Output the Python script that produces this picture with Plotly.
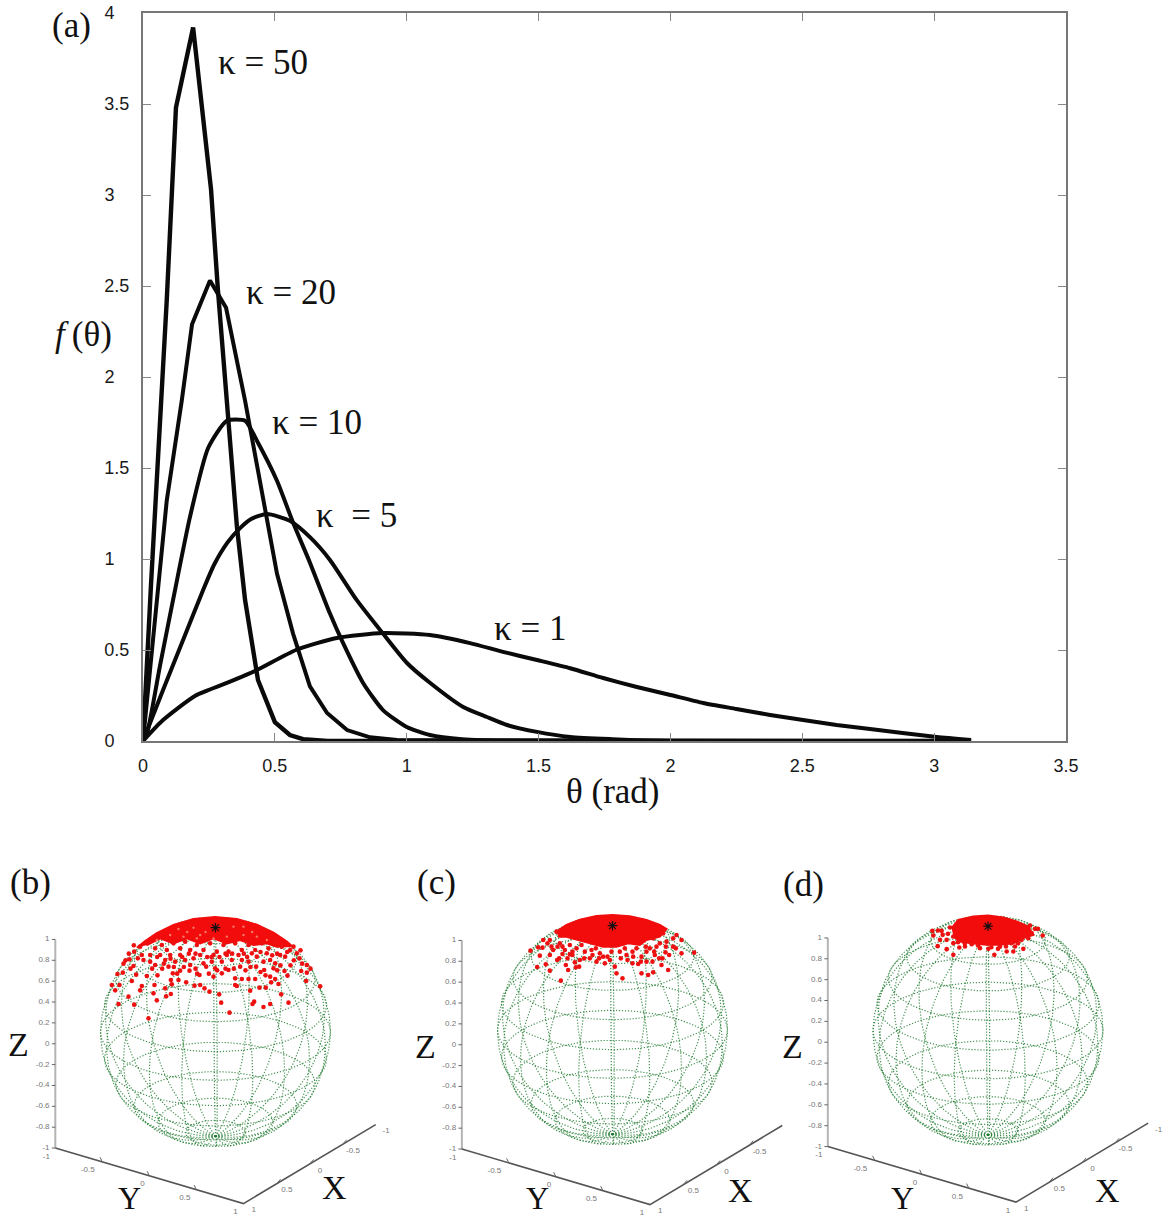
import numpy as np
import plotly.graph_objects as go

W, H = 1168, 1218

# ---------- panel (a): values ----------
k50_x = [0, 0.03, 0.09, 0.125, 0.19, 0.224, 0.258, 0.284, 0.318, 0.356, 0.387, 0.436, 0.50, 0.557, 0.607, 0.70, 3.14]
k50_y = [0, 0.85, 2.42, 3.48, 3.92, 3.50, 3.03, 2.48, 1.84, 1.18, 0.775, 0.335, 0.104, 0.033, 0.01, 0, 0]
k20_x = [0, 0.04, 0.09, 0.147, 0.186, 0.254, 0.315, 0.387, 0.413, 0.455, 0.508, 0.569, 0.633, 0.698, 0.774, 0.861, 0.963, 3.14]
k20_y = [0, 0.59, 1.32, 1.87, 2.29, 2.53, 2.38, 1.87, 1.67, 1.32, 0.92, 0.59, 0.30, 0.154, 0.06, 0.02, 0.005, 0]
k10_x = [0, 0.015, 0.064, 0.114, 0.178, 0.247, 0.318, 0.387, 0.432, 0.508, 0.569, 0.633, 0.709, 0.758, 0.834, 0.91, 1.0, 1.088, 1.21, 1.4, 3.14]
k10_y = [0, 0.04, 0.41, 0.775, 1.23, 1.61, 1.76, 1.76, 1.65, 1.43, 1.20, 0.98, 0.70, 0.54, 0.32, 0.17, 0.077, 0.033, 0.01, 0, 0]
k5_x = [0, 0.076, 0.152, 0.228, 0.27, 0.32, 0.368, 0.41, 0.47, 0.557, 0.633, 0.709, 0.81, 0.91, 1.0, 1.088, 1.214, 1.304, 1.38, 1.494, 1.62, 1.78, 2.0, 3.14]
k5_y = [0, 0.28, 0.555, 0.83, 0.97, 1.09, 1.17, 1.22, 1.247, 1.21, 1.12, 0.995, 0.775, 0.59, 0.43, 0.32, 0.187, 0.132, 0.088, 0.05, 0.022, 0.01, 0, 0]
k1_x = [0, 0.076, 0.2, 0.318, 0.432, 0.58, 0.735, 0.91, 1.088, 1.24, 1.365, 1.494, 1.62, 1.745, 1.873, 2.0, 2.124, 2.25, 2.378, 2.503, 2.63, 2.757, 2.88, 3.01, 3.14]
k1_y = [0, 0.115, 0.25, 0.319, 0.39, 0.5, 0.566, 0.593, 0.582, 0.538, 0.49, 0.445, 0.40, 0.346, 0.297, 0.253, 0.209, 0.176, 0.143, 0.115, 0.088, 0.066, 0.044, 0.022, 0.005]

x_ticks = [0, 0.5, 1, 1.5, 2, 2.5, 3, 3.5]
x_tick_labels = ["0", "0.5", "1", "1.5", "2", "2.5", "3", "3.5"]
y_ticks = [0, 0.5, 1, 1.5, 2, 2.5, 3, 3.5, 4]
y_tick_labels = ["0", "0.5", "1", "1.5", "2", "2.5", "3", "3.5", "4"]

# ---------- panels (b)-(d): red samples as seen on the sphere ----------
# offsets from the sphere centre, in units of 1/345 of its radius
READ_UNIT = 345.0
b_u = [42,-201,-291,-244,-176,-261,-186,-148,-134,17,116,111,144,164,219,197,314,272,104,132,151,-311,-288,-301,-251,-221,-226,-183,-151,-131,-111,-88,-63,-46,-33,-18,11,59,79,64,99,119,167,189,179,207,216,257,274,-294,-278,-276,-246,-258,-221,-206,-174,-134,-128,-106,-78,-48,-28,-6,19,39,59,74,122,146,164,174,209,244,252,274,-244,-233,-216,-196,-181,-151,-141,-121,-91,-76,-66,-36,-11,-1,19,49,79,99,124,144,164,179,194,224,234,-226,-206,-181,-161,-146,-126,-106,-91,-76,-56,-36,-16,4,24,39,59,79,99,119,139,159,179,199,-196,-166,-136,-106,-46,-6,34,69,109,154,
       -260,-270,-255,-238,-190,-160,-125,-115,-95,-60,-55,-20,5,30,55,90,105,135,150,185,195,225,235,260,285,-175,-155,-135,-100,-80,-60,-25,-12,12,30,50,85,95,135,170,185,215,255,-245]
b_v = [58,41,84,82,95,106,116,107,114,88,91,84,75,84,88,113,137,153,124,133,133,141,141,125,153,138,125,141,131,143,156,149,139,141,131,121,113,141,159,138,159,159,149,144,159,183,169,183,178,174,178,205,198,218,231,168,170,156,176,184,184,171,196,166,176,186,161,196,196,186,166,191,226,236,221,201,241,221,216,211,201,216,196,211,216,201,221,206,211,191,211,216,216,211,226,211,216,206,231,246,256,256,266,251,261,246,266,251,271,246,261,246,266,241,261,241,266,246,261,246,266,251,271,256,231,231,231,231,231,231,231,231,236,236,
       235,215,190,172,190,190,195,175,195,190,175,175,185,190,190,185,195,180,170,185,200,200,215,205,190,225,205,220,225,235,235,225,225,225,235,235,235,225,240,230,235,240,245,260]
b_cap_u = [-236,-211,-176,-126,-66,-1,64,124,174,214,229,184,154,114,74,34,-6,-46,-86,-126,-166,-206]
b_cap_v = [253,273,297,321,339,345,339,322,298,271,258,256,266,261,276,266,281,266,281,266,281,261]
b_gap_u = [-111,-66,-46,54,84,-136,-96,-56,-6,34,84,124,154,-176,-30,110,-85]
b_gap_v = [309,313,291,316,316,291,286,281,281,286,291,286,276,276,300,300,300]

c_u = [30,-155,-188,-226,-200,-133,-110,-140,-166,-218,-246,-223,-210,-183,-188,-150,-128,-98,-100,-113,-68,-48,-23,-8,7,12,62,77,87,107,122,102,127,140,147,167,159,207,245,182,207,192,142,112,87,42,22,-38,-28,-83,-108,-128,-158,-188,-208,-168,102,132,162,182,122,152,72,37,-3,-63,-93,-143,-178,
       -160,-135,-120,-85,-60,-40,-15,25,45,60,85,120,150,170,190,160,125,100,60,-50,-120,-165,-195,-150]
c_v = [155,148,178,189,197,180,188,195,210,223,238,248,247,250,225,228,227,210,190,203,215,205,200,210,190,170,220,198,170,165,173,205,225,215,195,180,233,230,232,250,270,285,260,245,220,225,235,230,220,235,245,255,260,270,270,295,235,250,265,275,275,290,245,245,235,240,255,240,240,
       215,215,235,215,225,215,220,215,210,200,205,205,215,225,245,250,235,250,235,245,225,250,260,250]
c_cap_u = [-168,-138,-98,-48,0,52,102,142,162,142,102,82,47,12,-28,-68,-103,-138,-163]
c_cap_v = [295,315,331,342,345,341,330,315,303,280,270,255,260,250,250,260,270,280,280]

d_u = [-104,19,-151,-124,-164,-167,-144,-124,-136,-104,-86,-69,-49,-24,1,56,76,106,81,54,101,121,131,164,141,126,36,-114,-139,-104,
       -90,-70,-30,10,30,70,90,110,150,-120,-150]
d_v = [227,227,253,244,285,299,272,272,287,262,249,252,259,247,245,237,237,245,252,252,272,277,292,285,305,315,252,309,299,282,
       265,262,255,250,245,262,262,285,305,290,300]
d_cap_u = [-109,-89,-44,0,46,86,121,136,106,76,36,-4,-49,-84,-104]
d_cap_v = [307,332,342,345,339,327,312,287,277,262,257,257,262,267,282]

z_ticks = [1, 0.8, 0.6, 0.4, 0.2, 0, -0.2, -0.4, -0.6, -0.8, -1]
z_tick_labels = ["1", "0.8", "0.6", "0.4", "0.2", "0", "-0.2", "-0.4", "-0.6", "-0.8", "-1"]
xy_ticks = [-1, -0.5, 0, 0.5, 1]
xy_tick_labels = ["-1", "-0.5", "0", "0.5", "1"]

SERIF = "Liberation Serif"
SANS = "Liberation Sans"
INK = "#111111"

fig = go.Figure()

# ---------- panel (a) ----------
for xs, ys, name, w, shape in [(k50_x, k50_y, "κ = 50", 4.4, "linear"), (k20_x, k20_y, "κ = 20", 4, "linear"),
                               (k10_x, k10_y, "κ = 10", 4, "spline"), (k5_x, k5_y, "κ = 5", 4, "spline"),
                               (k1_x, k1_y, "κ = 1", 4, "spline")]:
    fig.add_trace(go.Scatter(x=xs, y=ys, mode="lines", name=name, showlegend=False, cliponaxis=False,
                             line=dict(color="#0a0a0a", width=w, shape=shape, smoothing=0.6), xaxis="x", yaxis="y"))

def projection(x, y, z):
    # view of the MATLAB style 3-D box: returns horizontal and vertical screen components in radius units
    su, cu = 0.575, 0.818
    se, ce = 0.42, 0.907
    u = -su * np.asarray(x, float) + cu * np.asarray(y, float)
    v = -se * (cu * np.asarray(x, float) + su * np.asarray(y, float)) + ce * np.asarray(z, float)
    return u, v

def wire_lines():
    us, vs = [], []
    t = np.linspace(0, 2 * np.pi, 145)
    lats = np.linspace(-np.pi / 2, np.pi / 2, 73)
    for lon in np.arange(0, 360, 18):
        lo = np.radians(lon)
        u, v = projection(np.cos(lats) * np.cos(lo), np.cos(lats) * np.sin(lo), np.sin(lats))
        us += list(u) + [None]
        vs += list(v) + [None]
    for lat in np.arange(-75, 90, 15):
        la = np.radians(lat)
        u, v = projection(np.cos(la) * np.cos(t), np.cos(la) * np.sin(t), np.full_like(t, np.sin(la)))
        us += list(u) + [None]
        vs += list(v) + [None]
    return us, vs

wire_u, wire_v = wire_lines()
# id, sphere centre, box shift relative to the sphere (panel c's box sits a little off), samples
panels = [
    ("2", 215.5, 1032, 0.0, 0.0, b_u, b_v, b_cap_u, b_cap_v, b_gap_u, b_gap_v),
    ("3", 612.5, 1030, 0.083, -0.026, c_u, c_v, c_cap_u, c_cap_v, [], []),
    ("4", 988.0, 1030.5, 0.0, 0.0, d_u, d_v, d_cap_u, d_cap_v, [], []),
]
R = 115.0
XSPAN = 1.55
YTOP, YBOT = 1.12, -1.6
y_label_shift = [-0.078, -0.126, -0.06, -0.1, -0.07]
layout_axes = {}
for sid, cx, cy, bx, by, pu, pv, cu_, cv_, gu, gv in panels:
    xa, ya = "x" + sid, "y" + sid
    layout_axes["xaxis" + sid] = dict(domain=[(cx - XSPAN * R) / W, (cx + XSPAN * R) / W], range=[-XSPAN, XSPAN],
                                      visible=False, fixedrange=True, anchor=ya)
    layout_axes["yaxis" + sid] = dict(domain=[1 - (cy - YBOT * R) / H, 1 - (cy - YTOP * R) / H], range=[YBOT, YTOP],
                                      visible=False, fixedrange=True, anchor=xa)
    fig.add_trace(go.Scatter(x=wire_u, y=wire_v, mode="lines", xaxis=xa, yaxis=ya, showlegend=False, hoverinfo="skip",
                             line=dict(color="rgba(35,125,50,0.85)", width=1.2, dash="1.2px 1.8px")))
    # Z axis
    zu, zv = projection([1, 1], [-1, -1], [-1, 1])
    fig.add_trace(go.Scatter(x=zu + bx, y=zv + by, mode="lines", xaxis=xa, yaxis=ya, showlegend=False, hoverinfo="skip",
                             line=dict(color="#b4b4b4", width=2)))
    # Y and X axes along the floor
    fu, fv = projection([1, 1, -1], [-1, 1, 1], [-1, -1, -1])
    fig.add_trace(go.Scatter(x=fu + bx, y=fv + by, mode="lines", xaxis=xa, yaxis=ya, showlegend=False, hoverinfo="skip",
                             line=dict(color="#555555", width=1.6)))
    # ticks
    tu, tv = [], []
    for z in z_ticks:
        a = projection(1, -1, z)
        tu += [float(a[0]) + bx, float(a[0]) + bx - 0.03, None]
        tv += [float(a[1]) + by, float(a[1]) + by, None]
    for t_ in xy_ticks[1:-1]:
        a = projection(1, t_, -1)
        tu += [float(a[0]) + bx, float(a[0]) + bx - 0.02, None]
        tv += [float(a[1]) + by, float(a[1]) + by + 0.04, None]
        a = projection(t_, 1, -1)
        tu += [float(a[0]) + bx, float(a[0]) + bx + 0.035, None]
        tv += [float(a[1]) + by, float(a[1]) + by + 0.04, None]
    fig.add_trace(go.Scatter(x=tu, y=tv, mode="lines", xaxis=xa, yaxis=ya, showlegend=False, hoverinfo="skip",
                             line=dict(color="#666666", width=1)))
    # tick labels
    zu_l, zv_l, zt = [], [], []
    for z, s in zip(z_ticks, z_tick_labels):
        a = projection(1, -1, z)
        zu_l.append(float(a[0]) + bx - 0.05); zv_l.append(float(a[1]) + by); zt.append(s)
    fig.add_trace(go.Scatter(x=zu_l, y=zv_l, text=zt, mode="text", textposition="middle left", xaxis=xa, yaxis=ya,
                             showlegend=False, hoverinfo="skip", cliponaxis=False,
                             textfont=dict(family=SANS, size=8, color="#777777")))
    lu, lv, lt = [], [], []
    for t_, s, sh in zip(xy_ticks, xy_tick_labels, y_label_shift):
        a = projection(1, t_, -1)
        lu.append(float(a[0]) + bx + sh); lv.append(float(a[1]) + by - 0.074); lt.append(s)
    for t_, s in zip(xy_ticks, xy_tick_labels):
        a = projection(t_, 1, -1)
        lu.append(float(a[0]) + bx + 0.09); lv.append(float(a[1]) + by - 0.057); lt.append(s)
    fig.add_trace(go.Scatter(x=lu, y=lv, text=lt, mode="text", xaxis=xa, yaxis=ya, showlegend=False, hoverinfo="skip",
                             cliponaxis=False, textfont=dict(family=SANS, size=8, color="#777777")))
    # red cap and scattered samples
    fig.add_trace(go.Scatter(x=[a / READ_UNIT for a in cu_], y=[a / READ_UNIT for a in cv_], mode="lines", fill="toself",
                             fillcolor="#f20c0c", xaxis=xa, yaxis=ya, showlegend=False, hoverinfo="skip",
                             line=dict(color="#f20c0c", width=2)))
    fig.add_trace(go.Scatter(x=[a / READ_UNIT for a in pu], y=[a / READ_UNIT for a in pv], mode="markers",
                             xaxis=xa, yaxis=ya, showlegend=False, hoverinfo="skip",
                             marker=dict(color="#ee1111", size=4.6, line=dict(width=0))))
    if gu:
        fig.add_trace(go.Scatter(x=[a / READ_UNIT for a in gu], y=[a / READ_UNIT for a in gv], mode="markers",
                                 xaxis=xa, yaxis=ya, showlegend=False, hoverinfo="skip",
                                 marker=dict(color="#f87868", size=2.4, line=dict(width=0))))
    su, sv = projection([0], [0], [1])
    fig.add_trace(go.Scatter(x=su, y=sv, mode="markers", xaxis=xa, yaxis=ya, showlegend=False, hoverinfo="skip",
                             marker=dict(symbol="asterisk-open", size=8, color="#111111", line=dict(color="#111111", width=1.2))))

def note(text, px, py, size=35, anchor="center"):
    return dict(text=text, x=px / W, y=1 - py / H, xref="paper", yref="paper", showarrow=False, xanchor=anchor,
                yanchor="middle", font=dict(family=SERIF, size=size, color=INK))

def bottom_note(text, px, size=32):
    return dict(text=text, x=px / W, y=0, xref="paper", yref="paper", showarrow=False, xanchor="center",
                yanchor="bottom", font=dict(family=SERIF, size=size, color=INK))

annotations = [
    note("κ = 50", 262.5, 62), note("κ = 20", 291, 292), note("κ = 10", 317, 422),
    note("κ  = 5", 356, 515), note("κ = 1", 530, 628),
    note("(a)", 71, 26), note("<i>f</i>\u2009(θ)", 83, 334), note("θ (rad)", 613, 791),
    note("(b)", 30, 882), note("(c)", 436, 883), note("(d)", 803, 884),
    note("Z", 18, 1044, 34), note("Z", 425, 1046, 34), note("Z", 792, 1046, 34),
    bottom_note("Y", 129.5), bottom_note("Y", 537), bottom_note("Y", 902),
    note("X", 334, 1187, 34), note("X", 740, 1190, 34), note("X", 1107, 1190, 34),
]

PAD = "\u00a0\u00a0\u00a0"
fig.update_layout(
    width=W, height=H, margin=dict(l=0, r=0, t=0, b=0, autoexpand=False), paper_bgcolor="white", plot_bgcolor="white",
    showlegend=False, annotations=annotations,
    xaxis=dict(domain=[143 / W, 1066 / W], range=[0, 3.5], tickmode="array", tickvals=x_ticks, ticktext=x_tick_labels,
               ticks="inside", ticklen=8, tickcolor="#888888", tickwidth=1, showgrid=False, zeroline=False,
               showline=True, linecolor="#777777", linewidth=2, mirror="ticks", ticklabelstandoff=7,
               tickfont=dict(family=SANS, size=18, color="#1a1a1a"), fixedrange=True, anchor="y"),
    yaxis=dict(domain=[1 - 741 / H, 1 - 13 / H], range=[0, 4], tickmode="array", tickvals=y_ticks,
               ticktext=[s if "." in s else s + PAD for s in y_tick_labels],
               ticks="inside", ticklen=8, tickcolor="#888888", tickwidth=1, showgrid=False, zeroline=False,
               showline=True, linecolor="#777777", linewidth=2, mirror="ticks", ticklabelstandoff=8,
               tickfont=dict(family=SANS, size=18, color="#1a1a1a"), fixedrange=True, anchor="x"),
    **layout_axes,
)

fig.write_html("out.html", config=dict(displayModeBar=False),
               post_script="document.body.style.margin='0';")
